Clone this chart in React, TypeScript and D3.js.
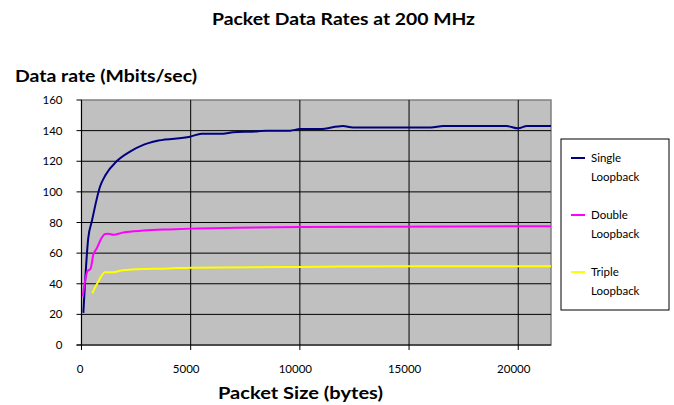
import React from "react";
import * as d3 from "d3";

const singleX = [85, 310, 470, 850, 1100, 1610, 2220, 2830, 3520, 4970, 5500, 6480, 6940, 8020, 8480, 9550, 10000, 10920, 11970, 12430, 16000, 16570, 19470, 20000, 20400, 21500];
const singleY = [21, 70, 80.6, 103.5, 111, 120, 126.3, 130.7, 133.5, 136, 138, 138, 139, 139.5, 140, 140, 141, 141, 143, 142, 142, 143, 143, 141.5, 143, 143];
const doubleX = [55, 265, 420, 540, 695, 925, 1075, 1230, 1455, 1915, 2830, 4000, 5000, 10000, 20000, 21500];
const doubleY = [31.6, 48, 50, 59, 63, 70, 72.5, 72.7, 72, 73.5, 74.7, 75.5, 76, 77, 77.5, 77.5];
const tripleX = [495, 770, 1075, 1455, 1760, 2500, 4000, 5000, 10000, 15000, 20000, 21500];
const tripleY = [33.8, 41.4, 47.5, 47.5, 48.5, 49.5, 50, 50.5, 51, 51.5, 51.5, 51.5];

const seriesNames = ["Single", "Double", "Triple"];
const seriesColors = ["#000080", "#FF00FF", "#FFFF00"];
const xTicks = [0, 5000, 10000, 15000, 20000];
const yTicks = [0, 20, 40, 60, 80, 100, 120, 140, 160];

const FONT = "Lato, 'Open Sans', sans-serif";

export default function App() {
  const W = 674, H = 405;
  const left = 81.5, right = 551, top = 100, bottom = 345;
  const x = d3.scaleLinear().domain([0, 21500]).range([left, right]);
  const y = d3.scaleLinear().domain([0, 160]).range([bottom, top]);
  const line = d3.line<[number, number]>().x(d => x(d[0])).y(d => y(d[1])).curve(d3.curveMonotoneX);
  const series = [
    d3.zip(singleX, singleY) as [number, number][],
    d3.zip(doubleX, doubleY) as [number, number][],
    d3.zip(tripleX, tripleY) as [number, number][],
  ];
  const legX = 561, legY = 139, legW = 108, legH = 171;
  return (
    <svg width={W} height={H} style={{ position: "absolute", left: 0, top: 0, background: "#fff" }} fontFamily={FONT}>
      <text x={212} y={24.5} fontSize={17.5} fontWeight="bold" textLength={263} lengthAdjust="spacingAndGlyphs">Packet Data Rates at 200 MHz</text>
      <text x={15} y={81.5} fontSize={17.5} fontWeight="bold" textLength={182} lengthAdjust="spacingAndGlyphs">Data rate (Mbits/sec)</text>
      <text x={218} y={399} fontSize={17.5} fontWeight="bold" textLength={165} lengthAdjust="spacingAndGlyphs">Packet Size (bytes)</text>
      <rect x={left} y={top} width={right - left} height={bottom - top} fill="#C0C0C0" stroke="#808080" strokeWidth={1.5} />
      {yTicks.map(t => (
        <g key={"y" + t}>
          {t > 0 && t < 160 && <line x1={left} x2={right} y1={y(t)} y2={y(t)} stroke="#000" strokeWidth={1} />}
          <line x1={left - 5} x2={left} y1={y(t)} y2={y(t)} stroke="#000" />
          <text x={left - 19} y={y(t) + 4} textAnchor="end" fontSize={11.5}>{t}</text>
        </g>
      ))}
      {xTicks.map(t => (
        <g key={"x" + t}>
          {t > 0 && <line x1={x(t)} x2={x(t)} y1={top} y2={bottom} stroke="#000" strokeWidth={1} />}
          <line x1={x(t)} x2={x(t)} y1={bottom} y2={bottom + 5} stroke="#000" />
          <text x={x(t) - (t === 0 ? 1.5 : 4.5)} y={373} textAnchor="middle" fontSize={11.5}>{t}</text>
        </g>
      ))}
      <line x1={left} x2={left} y1={top} y2={bottom + 5} stroke="#000" />
      <line x1={left - 5} x2={right} y1={bottom} y2={bottom} stroke="#000" />
      {series.map((s, i) => (
        <path key={i} d={line(s) || ""} fill="none" stroke={seriesColors[i]} strokeWidth={2} strokeLinejoin="round" />
      ))}
      <rect x={legX} y={legY} width={legW} height={legH} fill="#fff" stroke="#000" strokeWidth={1} />
      {seriesNames.map((n, i) => (
        <g key={n}>
          <line x1={legX + 10} x2={legX + 24} y1={legY + 19 + i * 57} y2={legY + 19 + i * 57} stroke={seriesColors[i]} strokeWidth={2} />
          <text x={legX + 30} y={legY + 23 + i * 57} fontSize={11.5}>{n}</text>
          <text x={legX + 30} y={legY + 42 + i * 57} fontSize={11.5}>Loopback</text>
        </g>
      ))}
    </svg>
  );
}
